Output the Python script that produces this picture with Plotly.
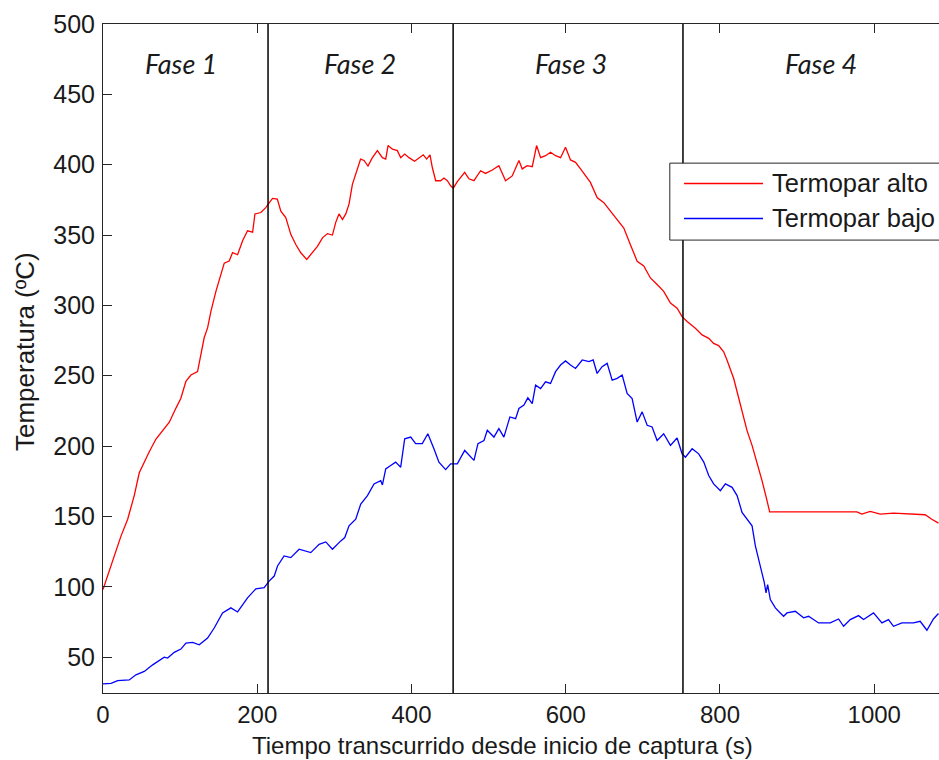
import plotly.graph_objects as go

# ---- data ----
t_alto = [0, 14.7, 23.3, 32, 40.6, 47, 53.5, 60, 68.7, 77.3, 86, 94.6, 101, 107.5, 114, 122.6, 127,
          131.2, 135.6, 140, 146.4, 152.8, 157.2, 163.6, 168, 174.5, 181, 187.4, 194, 197, 204.7, 211,
          215.4, 219.8, 226, 230.6, 237, 243.5, 250, 256.5, 264.2, 271.6, 278, 284.6, 291, 297.5,
          301.8, 306, 310.5, 314.8, 319, 323.4, 329, 334, 338.5, 343.6, 349.3, 355.8, 362.3, 366.6,
          369.6, 375.3, 381.7, 386, 391.2, 396.8, 404, 409.7, 415.3, 419.7, 424, 427, 431.4, 437.8,
          442, 446.5, 450.8, 454.2, 459.4, 469, 474.5, 481, 489.6, 496, 504.8, 513.3, 522, 530.6,
          539.3, 543.6, 550, 556.6, 562.2, 567.4, 573.8, 580.3, 586.8, 593.3, 599.7, 606.2, 612.7,
          619.2, 625.6, 632, 640.7, 649.4, 658, 666.7, 675.3, 684, 692.6, 701.2, 709.8, 718.5, 727,
          735.8, 744.4, 750.9, 757.4, 768.1, 776.8, 785.4, 791.8, 798.3, 804.8, 809.2, 813.5, 817.8,
          822.2, 826.4, 830.7, 835.1, 841.6, 848, 854.5, 860, 864.4, 977.5, 984, 994.8, 1007.8, 1025,
          1042, 1066, 1074.7, 1083.3]
T_alto = [98, 122, 136, 148, 165, 181, 189, 196, 205, 211, 217, 227, 234, 246, 250.5, 253, 265,
          277, 284, 296, 310, 322, 330, 331.5, 337.5, 336, 346, 353, 352, 365, 366, 369.5,
          373, 376, 375.5, 367, 362.4, 350.5, 343.3, 337.4, 332.6, 337.4, 342, 348, 351, 350,
          359, 365, 361, 365, 372, 386, 396, 404, 403, 399, 405, 410, 405, 404,
          413.6, 411, 410, 405, 407.6, 405, 402.4, 405, 407, 404, 407, 398, 388.6, 388.6,
          390.5, 388.6, 385, 383.3, 388, 394.5, 390, 388.6, 395.7, 393.8, 396.2, 399.3, 388.6, 392,
          403, 397, 399.3, 398.6, 413.6, 405, 406.4, 408.8, 406.4, 405, 412.4, 403.4, 401.7,
          397, 392, 387.4, 376.7, 373, 367, 361, 355, 343, 331.4, 328, 319.5, 314.8, 310,
          301.7, 298, 292, 288.6, 283.8, 279, 276.6, 273, 271.4, 267, 261, 254, 248,
          238.6, 230, 219.5, 211, 200.5, 188.6, 175.5, 163.6, 153.3, 153.3, 151.7, 153.6, 151.7, 152.4,
          151.7, 151.2, 148, 145.2]

t_bajo = [0, 10.4, 19, 34, 42.7, 53.5, 64.4, 79.4, 83.8, 92.4, 101, 107.5, 116.2, 124.8, 135.6,
          144.2, 155, 165.8, 174.5, 187.4, 198.2, 209, 215.4, 222, 226.3, 234.8, 243.5, 254.3,
          269.4, 280.2, 288.9, 297.5, 308.3, 313.5, 319, 327.7, 334.2, 342.9, 351.4, 360.1, 362.3,
          366.6, 373, 379.5, 386, 391.2, 399, 405.4, 414, 421.2, 429.1, 435.6, 444.3, 450.8, 459.4,
          469, 481, 486.2, 494, 498.3, 506.9, 513.3, 519.8, 527.6, 535, 539.3, 545.8, 550.9, 556.6,
          560.9, 567.4, 573.8, 580.3, 586.8, 593.3, 599.7, 606.2, 612.7, 621.4, 630, 635.6, 640.7,
          647.2, 653.7, 660.2, 666.7, 673.2, 679.6, 686.1, 692.6, 699.1, 705.6, 712, 718.5, 727,
          735.8, 744.4, 750.9, 755.2, 763.9, 772.4, 779, 785.4, 791.8, 800.5, 807, 815.7, 822.2,
          828.6, 835.1, 841.6, 845.9, 850.1, 854.5, 857.5, 859.7, 861.8, 865.3, 871.8, 878.2, 882.5,
          886.9, 897.7, 908.4, 914.9, 927.9, 943, 953.8, 960.3, 968.9, 979.7, 986.2, 999.1, 1010,
          1018.5, 1025, 1035.9, 1050.9, 1059.6, 1068.3, 1076.8, 1083.3]
T_bajo = [31, 31.4, 33.3, 33.8, 37.4, 39.8, 44.5, 50, 49.3, 53.4, 55.7, 60, 60.5, 58.8, 63.6,
          70.7, 81.4, 85, 82.1, 92.1, 98.6, 99.3, 104, 107.6, 114.8, 121.9, 120.7, 126.7,
          124.3, 130.2, 131.9, 126.7, 132.6, 135, 143.3, 148.1, 158.8, 164.8, 173.1, 175.5, 172.4,
          183.8, 186.2, 188.6, 185, 205.2, 206.4, 201.7, 201.7, 208.8, 198.1, 188.6, 183.3, 187.4, 187.4,
          196.9, 189.8, 201.7, 204, 211.2, 206.4, 212.4, 206.4, 220.7, 219.5, 226.7, 229.1, 234.3, 230.2,
          243.3, 240.9, 245.7, 244.5, 252.9, 257.6, 260.5, 257.6, 255.2, 261.2, 260, 261.2, 251.6,
          256.4, 258.8, 246.9, 248.1, 250.5, 237.4, 233.8, 217.1, 224.3, 214.8, 213.6, 204, 208.8,
          200.5, 205.7, 194.5, 192.1, 198.1, 194.5, 188.6, 179.1, 173.1, 168.3, 173.1, 170.7, 164.8,
          152.9, 148.1, 143.3, 129, 119.5, 110, 102.9, 95.7, 101.6, 90.9, 85, 81.4, 79,
          81.4, 82.6, 77.9, 79, 74.3, 74.3, 77.1, 71.9, 76.7, 79.5, 76.7, 81.4, 74.3,
          76.7, 71.9, 74.3, 74.3, 75.5, 69.1, 77.1, 81]

series_names = ["Termopar alto", "Termopar bajo"]
series_colors = ["#ff0000", "#0000ff"]

phase_bounds = [214, 454, 752]
phase_labels = ["Fase 1", "Fase 2", "Fase 3", "Fase 4"]
phase_label_x = [101, 333, 607, 931]
phase_label_y = 472

x_ticks = [0, 200, 400, 600, 800, 1000]
y_ticks = [50, 100, 150, 200, 250, 300, 350, 400, 450, 500]

x_title = "Tiempo transcurrido desde inicio de captura (s)"
y_title = "Temperatura (ºC)"

FONT = "Liberation Sans, Arial, sans-serif"
AX = "#262626"
TXT = "#1a1a1a"

fig = go.Figure()
for xs, ys, nm, col in zip([t_alto, t_bajo], [T_alto, T_bajo], series_names, series_colors):
    fig.add_trace(go.Scatter(x=xs, y=ys, mode="lines", name=nm, showlegend=False,
                             line=dict(color=col, width=1.3)))

for xb in phase_bounds:
    fig.add_shape(type="line", xref="x", yref="paper", x0=xb, x1=xb, y0=0, y1=1,
                  line=dict(color="black", width=1.5))

for lbl, lx in zip(phase_labels, phase_label_x):
    fig.add_annotation(x=lx, y=phase_label_y, xref="x", yref="y", text=f"<i>{lbl}</i>",
                       showarrow=False, font=dict(family="Lato, Open Sans, sans-serif", size=27,
                                                  color=TXT))

# legend box (extends past the right edge, as in the reference)
fig.add_shape(type="rect", xref="paper", yref="paper", x0=0.678, x1=1.03, y0=0.677, y1=0.792,
              line=dict(color=AX, width=1), fillcolor="white", layer="above")
legend_rows_y = [0.7616, 0.7093]
for nm, col, ly in zip(series_names, series_colors, legend_rows_y):
    fig.add_shape(type="line", xref="paper", yref="paper", x0=0.695, x1=0.7895, y0=ly, y1=ly,
                  line=dict(color=col, width=1.5), layer="above")
    fig.add_annotation(x=0.798, y=ly, xref="paper", yref="paper", text=nm, showarrow=False,
                       xanchor="left", yanchor="middle",
                       font=dict(family=FONT, size=25.5, color=TXT))

# axis titles (positioned as in the reference)
fig.add_annotation(x=0.478, y=-0.079, xref="paper", yref="paper", text=x_title,
                   showarrow=False, xanchor="center", yanchor="middle",
                   font=dict(family=FONT, size=24, color=TXT))
fig.add_annotation(x=-0.093, y=0.51, xref="paper", yref="paper", text=y_title,
                   showarrow=False, textangle=-90, xanchor="center", yanchor="middle",
                   font=dict(family=FONT, size=26, color=TXT))

fig.update_layout(
    width=939, height=760,
    margin=dict(l=103, r=0, t=24, b=67),
    paper_bgcolor="white", plot_bgcolor="white",
    font=dict(family=FONT, size=24, color=TXT),
    showlegend=False,
)
fig.update_xaxes(range=[0, 1084], tickvals=x_ticks, ticks="inside", ticklen=9, tickcolor=AX,
                 showline=True, linecolor=AX, linewidth=1, mirror="allticks", showgrid=False,
                 zeroline=False, tickfont=dict(size=24))
fig.update_yaxes(range=[24.5, 500], tickvals=y_ticks, ticks="inside", ticklen=9, tickcolor=AX,
                 showline=True, linecolor=AX, linewidth=1, mirror=False, showgrid=False,
                 zeroline=False, tickfont=dict(size=25), ticklabelstandoff=2)

fig.write_html("out.html")
